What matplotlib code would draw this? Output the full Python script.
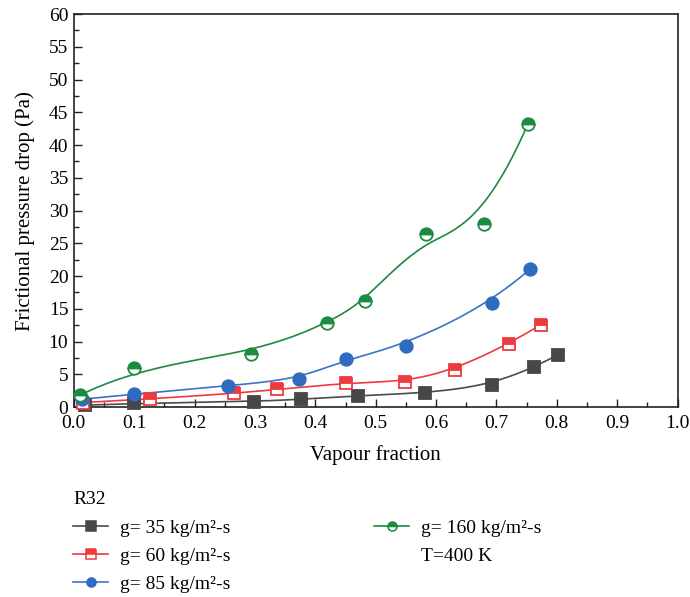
import numpy as np
import matplotlib
matplotlib.use("Agg")
import matplotlib.pyplot as plt
from matplotlib.lines import Line2D
from matplotlib.ticker import MultipleLocator

plt.rcParams['font.family'] = ['Liberation Serif', 'DejaVu Serif']

# Vapour fraction / frictional pressure drop for R32 at four mass fluxes
x_35 = [0.018, 0.099, 0.298, 0.377, 0.470, 0.581, 0.693, 0.763, 0.802]
y_35 = [0.30, 0.56, 0.85, 1.20, 1.75, 2.15, 3.35, 6.10, 8.00]

x_60 = [0.015, 0.126, 0.266, 0.336, 0.451, 0.549, 0.632, 0.720, 0.774]
y_60 = [0.70, 1.25, 2.10, 2.70, 3.70, 3.90, 5.70, 9.60, 12.60]

x_85 = [0.013, 0.100, 0.256, 0.373, 0.450, 0.550, 0.692, 0.756]
y_85 = [1.20, 2.00, 3.25, 4.30, 7.30, 9.40, 15.90, 21.10]

x_160 = [0.011, 0.099, 0.293, 0.420, 0.483, 0.583, 0.680, 0.752]
y_160 = [1.85, 5.90, 8.05, 12.80, 16.20, 26.40, 28.00, 43.20]

labels = ['g= 35 kg/m\u00b2-s', 'g= 60 kg/m\u00b2-s',
          'g= 85 kg/m\u00b2-s', 'g= 160 kg/m\u00b2-s']

x_ticks = [0.0, 0.1, 0.2, 0.3, 0.4, 0.5, 0.6, 0.7, 0.8, 0.9, 1.0]
y_ticks = [0, 5, 10, 15, 20, 25, 30, 35, 40, 45, 50, 55, 60]


def bspline(xs, ys, n=300, k=3):
    """Clamped uniform B-spline using the data points as control points."""
    P = np.column_stack([xs, ys]).astype(float)
    m = len(P)
    inner = np.linspace(0, 1, m - k + 1)
    knots = np.concatenate([np.zeros(k), inner, np.ones(k)])
    ts = np.linspace(0, 1, n)
    out = []
    for t in ts:
        N = np.zeros(len(knots) - 1)
        for i in range(len(knots) - 1):
            if knots[i] <= t < knots[i + 1]:
                N[i] = 1.0
        if t >= 1.0:
            N[m - 1] = 1.0
        for d in range(1, k + 1):
            Nn = np.zeros(len(knots) - 1 - d)
            for i in range(len(Nn)):
                a = 0.0
                den1 = knots[i + d] - knots[i]
                if den1 > 0:
                    a += (t - knots[i]) / den1 * N[i]
                den2 = knots[i + d + 1] - knots[i + 1]
                if den2 > 0:
                    a += (knots[i + d + 1] - t) / den2 * N[i + 1]
                Nn[i] = a
            N = Nn
        out.append(N[:m] @ P)
    out = np.array(out)
    return out[:, 0], out[:, 1]


fig = plt.figure(figsize=(6.9, 5.97), dpi=100)
ax = fig.add_axes([0.107, 0.318, 0.875, 0.6585])

series = [
    (x_35, y_35, '#4a4a4a', dict(marker='s', fillstyle='full',
                                  markerfacecolor='#474747', markeredgecolor='#474747')),
    (x_60, y_60, '#ee3a3f', dict(marker='s', fillstyle='top',
                                  markerfacecolor='#ee3a3f', markerfacecoloralt='white',
                                  markeredgecolor='#ee3a3f')),
    (x_85, y_85, '#3a74c4', dict(marker='o', fillstyle='full',
                                  markerfacecolor='#2f6bbf', markeredgecolor='#2f6bbf')),
    (x_160, y_160, '#1c8a40', dict(marker='o', fillstyle='top',
                                    markerfacecolor='#1c8a40', markerfacecoloralt='white',
                                    markeredgecolor='#1c8a40')),
]

handles = []
for (xs, ys, col, mk), lab in zip(series, labels):
    sx, sy = bspline(xs, ys)
    ax.plot(sx, sy, color=col, lw=1.2, zorder=2)
    ax.plot(xs, ys, linestyle='none', markersize=9, markeredgewidth=1.3,
            zorder=3, clip_on=False, **mk)
    handles.append(Line2D([], [], color=col, lw=1.2, markersize=6.5,
                          markeredgewidth=1.1, **mk))

ax.set_xlim(0, 1.0)
ax.set_ylim(0, 60)
ax.set_xticks(x_ticks)
ax.set_xticklabels([f'{v:.1f}' for v in x_ticks])
ax.set_yticks(y_ticks)
ax.set_yticklabels([str(v) for v in y_ticks])
ax.xaxis.set_minor_locator(MultipleLocator(0.05))
ax.yaxis.set_minor_locator(MultipleLocator(2.5))
ax.tick_params(which='both', direction='in', top=False, right=False,
               labelsize=14, width=1.0, color='#222222')
ax.tick_params(which='major', length=6)
ax.tick_params(which='minor', length=3.5)
ax.tick_params(axis='x', pad=6)
ax.tick_params(axis='y', pad=4)
for s in ax.spines.values():
    s.set_linewidth(1.2)
    s.set_color('#222222')

ax.set_xlabel('Vapour fraction', fontsize=15, labelpad=9)
ax.set_ylabel('Frictional pressure drop (Pa)', fontsize=15, labelpad=10)

handles.append(Line2D([], [], color='none'))
leg_labels = labels + ['T=400 K']
leg = fig.legend(handles, leg_labels, ncol=2, title='R32', loc='upper left',
                 bbox_to_anchor=(0.095, 0.19), frameon=False, fontsize=14,
                 title_fontsize=14, alignment='left', handlelength=1.8,
                 handletextpad=0.6, columnspacing=7.4, labelspacing=0.55,
                 borderaxespad=0)

fig.savefig('out.png', dpi=100)
